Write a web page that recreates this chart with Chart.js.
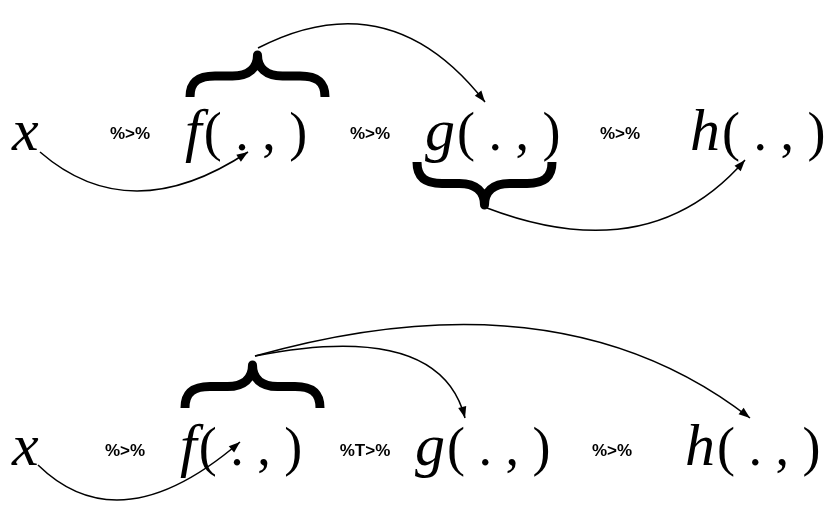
<!DOCTYPE html>
<html><head><meta charset="utf-8">
<script src="https://cdn.jsdelivr.net/npm/chart.js@4"></script>
<style>html,body{margin:0;background:#fff}#wrap{width:829px;height:517px}</style>
</head><body><div id="wrap"><canvas id="c"></canvas></div>
<script>
// diagram items, in chart units (x 0..829, y 0..517 from top)
const symbolX = [12, 185, 425, 690, 12, 180, 415, 685];
const symbolY = [150, 150, 150, 150, 465, 465, 465, 465];
const symbolLetter = ["x", "f", "g", "h", "x", "f", "g", "h"];
const symbolArgs = ["", "( . , )", "( . , )", "( . , )", "", "( . , )", "( . , )", "( . , )"];

const pipeX = [130, 370, 620, 125, 365, 612];
const pipeY = [133, 133, 133, 450, 450, 450];
const pipeText = ["%>%", "%>%", "%>%", "%>%", "%T>%", "%>%"];

// arrows: start, control, end
const arrowStart = [[40, 152], [258, 48], [487, 208], [38, 465], [255, 356], [255, 356]];
const arrowCtrl = [[130, 230], [390, -20], [650, 270], [120, 545], [440, 320], [560, 270]];
const arrowEnd = [[248, 152], [485, 102], [745, 160], [240, 442], [465, 418], [750, 418]];

// braces: x1, x2, base y, tip y
const braceX1 = [190, 417, 185];
const braceX2 = [325, 552, 320];
const braceBase = [97, 162, 408];
const braceTip = [55, 205, 365];

const diagramPlugin = {
  id: "diagram",
  afterDraw(chart) {
    const { ctx, scales: { x, y } } = chart;
    const px = v => x.getPixelForValue(v), py = v => y.getPixelForValue(v);
    ctx.save();
    ctx.fillStyle = "#000"; ctx.strokeStyle = "#000";
    ctx.textBaseline = "alphabetic";
    symbolLetter.forEach((s, i) => {
      ctx.font = "italic 60px 'Liberation Serif'";
      ctx.fillText(s, px(symbolX[i]), py(symbolY[i]));
      const w = ctx.measureText(s).width + 2;
      ctx.font = "54px 'Liberation Serif'";
      ctx.fillText(symbolArgs[i], px(symbolX[i]) + w, py(symbolY[i]));
    });
    ctx.font = "bold 17px 'Liberation Sans'";
    ctx.textAlign = "center";
    pipeText.forEach((t, i) => ctx.fillText(t, px(pipeX[i]), py(pipeY[i]) + 6));
    // braces
    ctx.lineWidth = 9; ctx.lineCap = "butt"; ctx.lineJoin = "round";
    braceX1.forEach((x1, i) => {
      const a = px(x1), b = px(braceX2[i]), m = (a + b) / 2;
      const yb = py(braceBase[i]), yt = py(braceTip[i]);
      const mid = (yb + yt) / 2, d = yt - yb;
      ctx.beginPath();
      ctx.moveTo(a, yb);
      ctx.bezierCurveTo(a, mid - d * 0.1, a + 10, mid, a + 25, mid);
      ctx.lineTo(m - 25, mid);
      ctx.bezierCurveTo(m - 8, mid, m, mid + d * 0.2, m, yt);
      ctx.bezierCurveTo(m, mid + d * 0.2, m + 8, mid, m + 25, mid);
      ctx.lineTo(b - 25, mid);
      ctx.bezierCurveTo(b - 10, mid, b, mid - d * 0.1, b, yb);
      ctx.stroke();
    });
    // arrows
    ctx.lineWidth = 1.5;
    arrowStart.forEach((s, i) => {
      const c = arrowCtrl[i], e = arrowEnd[i];
      const sx = px(s[0]), sy = py(s[1]), cx = px(c[0]), cy = py(c[1]), ex = px(e[0]), ey = py(e[1]);
      ctx.beginPath(); ctx.moveTo(sx, sy); ctx.quadraticCurveTo(cx, cy, ex, ey); ctx.stroke();
      const ang = Math.atan2(ey - cy, ex - cx), L = 12;
      ctx.beginPath();
      ctx.moveTo(ex, ey);
      ctx.lineTo(ex - L * Math.cos(ang - 0.35), ey - L * Math.sin(ang - 0.35));
      ctx.lineTo(ex - L * Math.cos(ang + 0.35), ey - L * Math.sin(ang + 0.35));
      ctx.closePath(); ctx.fill();
    });
    ctx.restore();
  }
};

new Chart(document.getElementById("c"), {
  type: "scatter",
  data: { datasets: [{ data: symbolX.map((v, i) => ({ x: v, y: symbolY[i] })), pointRadius: 0 }] },
  options: {
    responsive: true, maintainAspectRatio: false, animation: false,
    layout: { padding: 0 },
    plugins: { legend: { display: false }, tooltip: { enabled: false } },
    scales: {
      x: { type: "linear", min: 0, max: 829, display: false },
      y: { type: "linear", min: 0, max: 517, reverse: true, display: false }
    }
  },
  plugins: [diagramPlugin]
});
</script></body></html>
